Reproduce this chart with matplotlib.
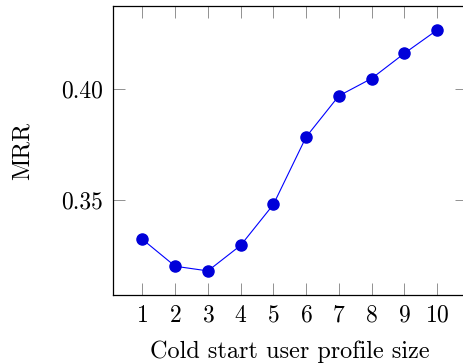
import matplotlib.pyplot as plt
import numpy as np

plt.rcParams['font.family'] = 'cmr10'
plt.rcParams['mathtext.fontset'] = 'cm'
plt.rcParams['axes.formatter.use_mathtext'] = True

profile_size = [1, 2, 3, 4, 5, 6, 7, 8, 9, 10]
mrr = [0.3324, 0.3203, 0.3182, 0.3297, 0.3481, 0.3785, 0.3970, 0.4048, 0.4161, 0.4266]

fig = plt.figure(figsize=(4.63, 3.64), dpi=100)
# right edge of the box falls outside the picture, as in the reference
ax = fig.add_axes([113 / 463, 1 - 295 / 364, 353.5 / 463, 289 / 364])

ax.plot(profile_size, mrr, color=(0, 0, 1), lw=0.8, marker='o', ms=8,
        markeredgecolor=(0, 0, 0.85), markerfacecolor=(0, 0, 0.85))

span = max(mrr) - min(mrr)
ax.set_xlim(0.1, 10.9)
ax.set_ylim(min(mrr) - 0.1 * span, max(mrr) + 0.1 * span)
ax.set_xticks(profile_size)
ax.set_yticks([0.35, 0.40])
ax.set_yticklabels(['0.35', '0.40'])

ax.tick_params(direction='in', length=8.5, width=0.6, color='#808080',
               top=True, right=True, labelsize=17, pad=7)
for s in ax.spines.values():
    s.set_linewidth(0.9)

ax.set_xlabel('Cold start user profile size', fontsize=17.5, labelpad=10)
ax.set_ylabel('MRR', fontsize=17.5, labelpad=20)

fig.savefig('out.png', dpi=100)
